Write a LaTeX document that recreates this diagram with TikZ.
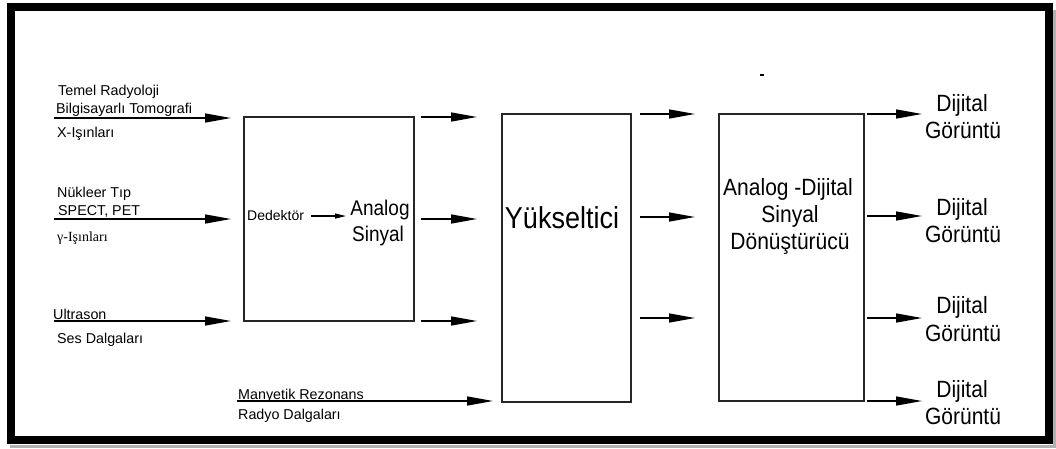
\documentclass[tikz,border=0pt]{standalone}
\usepackage{fontspec}
\usepackage{graphicx}
\setmainfont{Liberation Sans}
\newfontfamily\timesfont{Liberation Serif}
\newcommand{\talltext}[1]{\scalebox{1}[1.12]{#1}}
\usetikzlibrary{arrows.meta}
\tikzset{
  x=1pt, y=-1pt,
  blockbox/.style={draw=black!85, line width=1.4pt, inner sep=0pt},
  conn/.style={line width=1.4pt, -{Triangle[length=26pt,width=9pt]}},
  smallconn/.style={line width=1.2pt, -{Triangle[length=11pt,width=5pt]}},
  lbl/.style={inner sep=0pt, anchor=base west, font=\fontsize{14.3}{16}\selectfont},
  outlbl/.style={inner sep=0pt, anchor=base, font=\fontsize{21}{24}\selectfont},
}
\begin{document}
\begin{tikzpicture}
\useasboundingbox (0,0) rectangle (1056,448);
% frame with shadow
\draw[line width=3pt, black!30] (1054.5,10) -- (1054.5,446.5) -- (10,446.5);
\draw[line width=8pt] (11,7) rectangle (1049,440);

% blocks
\node[blockbox, minimum width=170pt, minimum height=204pt] (det) at (329,219) {};
\node[blockbox, minimum width=129pt, minimum height=288pt] (amp) at (566.5,258) {};
\node[blockbox, minimum width=145pt, minimum height=287pt] (adc) at (791.5,257.5) {};

% block texts
\node[inner sep=0pt, anchor=base west, font=\fontsize{14}{16}\selectfont] (dedtxt) at (247,220) {Dedektör};
\node[inner sep=0pt, anchor=base, font=\fontsize{19}{22}\selectfont] (an1) at (380,215) {\talltext{Analog}};
\node[inner sep=0pt, anchor=base, font=\fontsize{19}{22}\selectfont] (an2) at (378,241) {\talltext{Sinyal}};
\coordinate (dsa) at (311,216);
\coordinate (dsb) at (346,216);
\draw[smallconn] (dsa) -- (dsb);
\node[inner sep=0pt, anchor=base, font=\fontsize{27}{30}\selectfont] (yuk) at (562,228) {\talltext{Yükseltici}};
\node[outlbl] (adc1) at (788,195) {\talltext{Analog -Dijital}};
\node[outlbl] (adc2) at (790,222) {\talltext{Sinyal}};
\node[outlbl] (adc3) at (790,249) {\talltext{Dönüştürücü}};

% input labels
\node[lbl] (t1a) at (58,95) {Temel Radyoloji};
\node[lbl] (t1b) at (56,113) {Bilgisayarlı Tomografi};
\node[lbl] (t1c) at (57,137) {X-Işınları};
\node[lbl] (t2a) at (57,197) {Nükleer Tıp};
\node[lbl] (t2b) at (58,215) {SPECT, PET};
\node[lbl, font=\timesfont\fontsize{14}{16}\selectfont] (t2c) at (57,241) {γ-Işınları};
\node[lbl] (t3a) at (53,319) {Ultrason};
\node[lbl] (t3b) at (57,343) {Ses Dalgaları};
\node[lbl] (t4a) at (238,399) {Manyetik Rezonans};
\node[lbl] (t4b) at (238,419) {Radyo Dalgaları};

% input arrows
\coordinate (i1) at (54,118);  \coordinate (i1e) at (231,118);
\coordinate (i2) at (54,219);  \coordinate (i2e) at (231,219);
\coordinate (i3) at (54,321);  \coordinate (i3e) at (231,321);
\coordinate (i4) at (237,401); \coordinate (i4e) at (493,401);
\draw[conn] (i1) -- (i1e);
\draw[conn] (i2) -- (i2e);
\draw[conn] (i3) -- (i3e);
\draw[conn] (i4) -- (i4e);

% det -> amp
\coordinate (a1) at (421,117); \coordinate (a1e) at (477,117);
\coordinate (a2) at (421,219); \coordinate (a2e) at (477,219);
\coordinate (a3) at (421,321); \coordinate (a3e) at (477,321);
\draw[conn] (a1) -- (a1e);
\draw[conn] (a2) -- (a2e);
\draw[conn] (a3) -- (a3e);

% amp -> adc
\coordinate (b1) at (640,114); \coordinate (b1e) at (695,114);
\coordinate (b2) at (640,217); \coordinate (b2e) at (695,217);
\coordinate (b3) at (640,318); \coordinate (b3e) at (695,318);
\draw[conn] (b1) -- (b1e);
\draw[conn] (b2) -- (b2e);
\draw[conn] (b3) -- (b3e);

% outputs
\coordinate (c1) at (867,114); \coordinate (c1e) at (922,114);
\coordinate (c2) at (867,216); \coordinate (c2e) at (922,216);
\coordinate (c3) at (867,318); \coordinate (c3e) at (922,318);
\coordinate (c4) at (867,401); \coordinate (c4e) at (922,401);
\draw[conn] (c1) -- (c1e);
\draw[conn] (c2) -- (c2e);
\draw[conn] (c3) -- (c3e);
\draw[conn] (c4) -- (c4e);

\node[outlbl] (o1a) at (962,111) {\talltext{Dijital}};
\node[outlbl] (o1b) at (963,138) {\talltext{Görüntü}};
\node[outlbl] (o2a) at (962,215) {\talltext{Dijital}};
\node[outlbl] (o2b) at (963,242) {\talltext{Görüntü}};
\node[outlbl] (o3a) at (962,313) {\talltext{Dijital}};
\node[outlbl] (o3b) at (963,341) {\talltext{Görüntü}};
\node[outlbl] (o4a) at (962,397) {\talltext{Dijital}};
\node[outlbl] (o4b) at (963,424) {\talltext{Görüntü}};

% stray mark
\fill (760,73.5) rectangle (764,76);
\end{tikzpicture}
\end{document}
